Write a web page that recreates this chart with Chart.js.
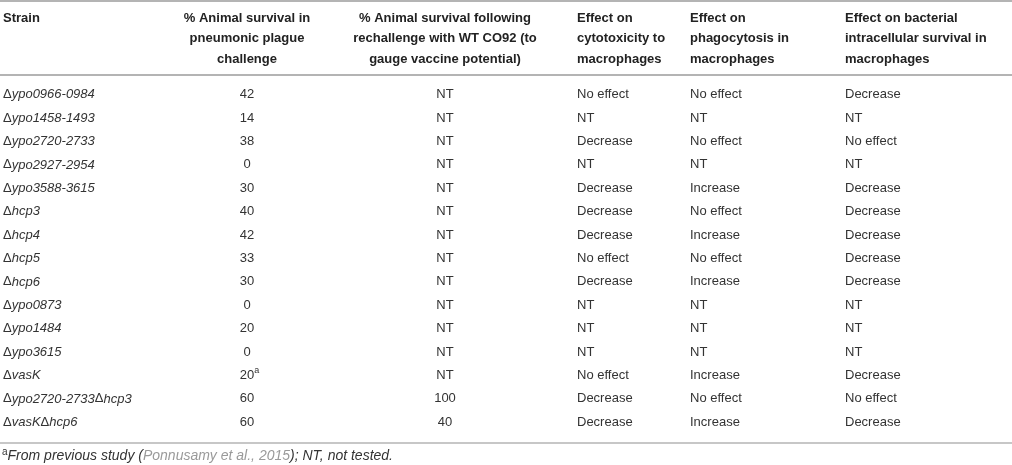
<!DOCTYPE html>
<html>
<head>
<meta charset="utf-8">
<script src="https://cdn.jsdelivr.net/npm/chart.js@4.4.1/dist/chart.umd.min.js"></script>
<style>
  body { margin: 0; background: #fff; }
  #wrap { width: 1012px; height: 465px; position: relative; }
</style>
</head>
<body>
<div id="wrap"><canvas id="table-chart"></canvas></div>
<script>
const strains = [
    'Δypo0966-0984', 'Δypo1458-1493', 'Δypo2720-2733', 'Δypo2927-2954', 'Δypo3588-3615',
    'Δhcp3', 'Δhcp4', 'Δhcp5', 'Δhcp6', 'Δypo0873', 'Δypo1484', 'Δypo3615',
    'ΔvasK', 'Δypo2720-2733Δhcp3', 'ΔvasKΔhcp6'
];
const pneumonicSurvival = [42, 14, 38, 0, 30, 40, 42, 33, 30, 0, 20, 0, 20, 60, 60];
const pneumonicNote = ['', '', '', '', '', '', '', '', '', '', '', '', 'a', '', ''];
// null = not tested
const rechallengeSurvival = [null, null, null, null, null, null, null, null, null, null, null, null, null, 100, 40];
const cytotoxicity = ['No effect', 'NT', 'Decrease', 'NT', 'Decrease', 'Decrease', 'Decrease', 'No effect',
    'Decrease', 'NT', 'NT', 'NT', 'No effect', 'Decrease', 'Decrease'];
const phagocytosis = ['No effect', 'NT', 'No effect', 'NT', 'Increase', 'No effect', 'Increase', 'No effect',
    'Increase', 'NT', 'NT', 'NT', 'Increase', 'No effect', 'Increase'];
const intracellular = ['Decrease', 'NT', 'No effect', 'NT', 'Decrease', 'Decrease', 'Decrease', 'Decrease',
    'Decrease', 'NT', 'NT', 'NT', 'Decrease', 'No effect', 'Decrease'];

const headers = [
    ['Strain'],
    ['% Animal survival in', 'pneumonic plague', 'challenge'],
    ['% Animal survival following', 'rechallenge with WT CO92 (to', 'gauge vaccine potential)'],
    ['Effect on', 'cytotoxicity to', 'macrophages'],
    ['Effect on', 'phagocytosis in', 'macrophages'],
    ['Effect on bacterial', 'intracellular survival in', 'macrophages']
];

const FONT = '"Liberation Sans", Arial, Helvetica, sans-serif';
const TEXT = '#333333';

// column anchors in x-scale units, with alignment
const columns = [
    { x: 3, align: 'left' },
    { x: 247, align: 'center' },
    { x: 445, align: 'center' },
    { x: 577, align: 'left' },
    { x: 690, align: 'left' },
    { x: 845, align: 'left' }
];

function drawStrain(ctx, name, x, y) {
    const parts = name.split(/(Δ)/).filter(s => s.length);
    parts.forEach(p => {
        ctx.font = (p === 'Δ' ? '' : 'italic ') + '13px ' + FONT;
        ctx.fillText(p, x, y);
        x += ctx.measureText(p).width;
    });
}

const tablePlugin = {
    id: 'tableText',
    afterDraw(chart) {
        const ctx = chart.ctx;
        const xs = chart.scales.x;
        const ys = chart.scales.y;
        const area = chart.chartArea;
        ctx.save();

        // rules
        ctx.strokeStyle = '#b4b4b4';
        ctx.lineWidth = 2;
        [1, area.top - 8].forEach(yy => {
            ctx.beginPath(); ctx.moveTo(0, yy); ctx.lineTo(chart.width, yy); ctx.stroke();
        });
        ctx.lineWidth = 1.5;
        ctx.beginPath(); ctx.moveTo(0, area.bottom + 9); ctx.lineTo(chart.width, area.bottom + 9); ctx.stroke();

        // header
        ctx.fillStyle = '#222222';
        ctx.textBaseline = 'middle';
        ctx.font = 'bold 13px ' + FONT;
        headers.forEach((lines, c) => {
            ctx.textAlign = columns[c].align;
            lines.forEach((line, i) => {
                ctx.fillText(line, xs.getPixelForValue(columns[c].x), 18 + i * 20.5);
            });
        });

        // body
        ctx.fillStyle = TEXT;
        strains.forEach((name, r) => {
            const y = ys.getPixelForValue(r);
            ctx.textAlign = 'left';
            drawStrain(ctx, name, xs.getPixelForValue(columns[0].x), y);

            ctx.font = '13px ' + FONT;
            ctx.textAlign = 'center';
            const v = String(pneumonicSurvival[r]);
            const cx = xs.getPixelForValue(columns[1].x);
            ctx.fillText(v, cx, y);
            if (pneumonicNote[r]) {
                const w = ctx.measureText(v).width;
                ctx.font = '9px ' + FONT;
                ctx.textAlign = 'left';
                ctx.fillText(pneumonicNote[r], cx + w / 2, y - 5);
                ctx.font = '13px ' + FONT;
            }
            ctx.textAlign = 'center';
            const rv = rechallengeSurvival[r];
            ctx.fillText(rv === null ? 'NT' : String(rv), xs.getPixelForValue(columns[2].x), y);

            ctx.textAlign = 'left';
            ctx.fillText(cytotoxicity[r], xs.getPixelForValue(columns[3].x), y);
            ctx.fillText(phagocytosis[r], xs.getPixelForValue(columns[4].x), y);
            ctx.fillText(intracellular[r], xs.getPixelForValue(columns[5].x), y);
        });

        // footnote
        const fy = area.bottom + 22;
        let fx = 2;
        ctx.textAlign = 'left';
        ctx.font = '10px ' + FONT;
        ctx.fillStyle = TEXT;
        ctx.fillText('a', fx, fy - 4);
        fx += ctx.measureText('a').width;
        [['From previous study (', TEXT], ['Ponnusamy et al., 2015', '#9a9a9a'], ['); NT, not tested.', TEXT]]
            .forEach(([t, col]) => {
                ctx.font = 'italic 14px ' + FONT;
                ctx.fillStyle = col;
                ctx.fillText(t, fx, fy);
                fx += ctx.measureText(t).width;
            });
        ctx.restore();
    }
};

const ctx = document.getElementById('table-chart').getContext('2d');
const tableChart = new Chart(ctx, {
    type: 'scatter',
    data: {
        labels: strains,
        datasets: [{
            label: 'rows',
            data: strains.map((s, i) => ({ x: 0, y: i })),
            pointRadius: 0,
            pointHoverRadius: 0
        }]
    },
    options: {
        responsive: true,
        maintainAspectRatio: false,
        animation: false,
        events: [],
        layout: { padding: { top: 83, bottom: 31, left: 0, right: 0 } },
        plugins: { legend: { display: false }, tooltip: { enabled: false } },
        scales: {
            x: { type: 'linear', min: 0, max: 1012, display: false },
            y: { type: 'category', labels: strains, offset: true, display: false }
        }
    },
    plugins: [tablePlugin]
});
</script>
</body>
</html>
